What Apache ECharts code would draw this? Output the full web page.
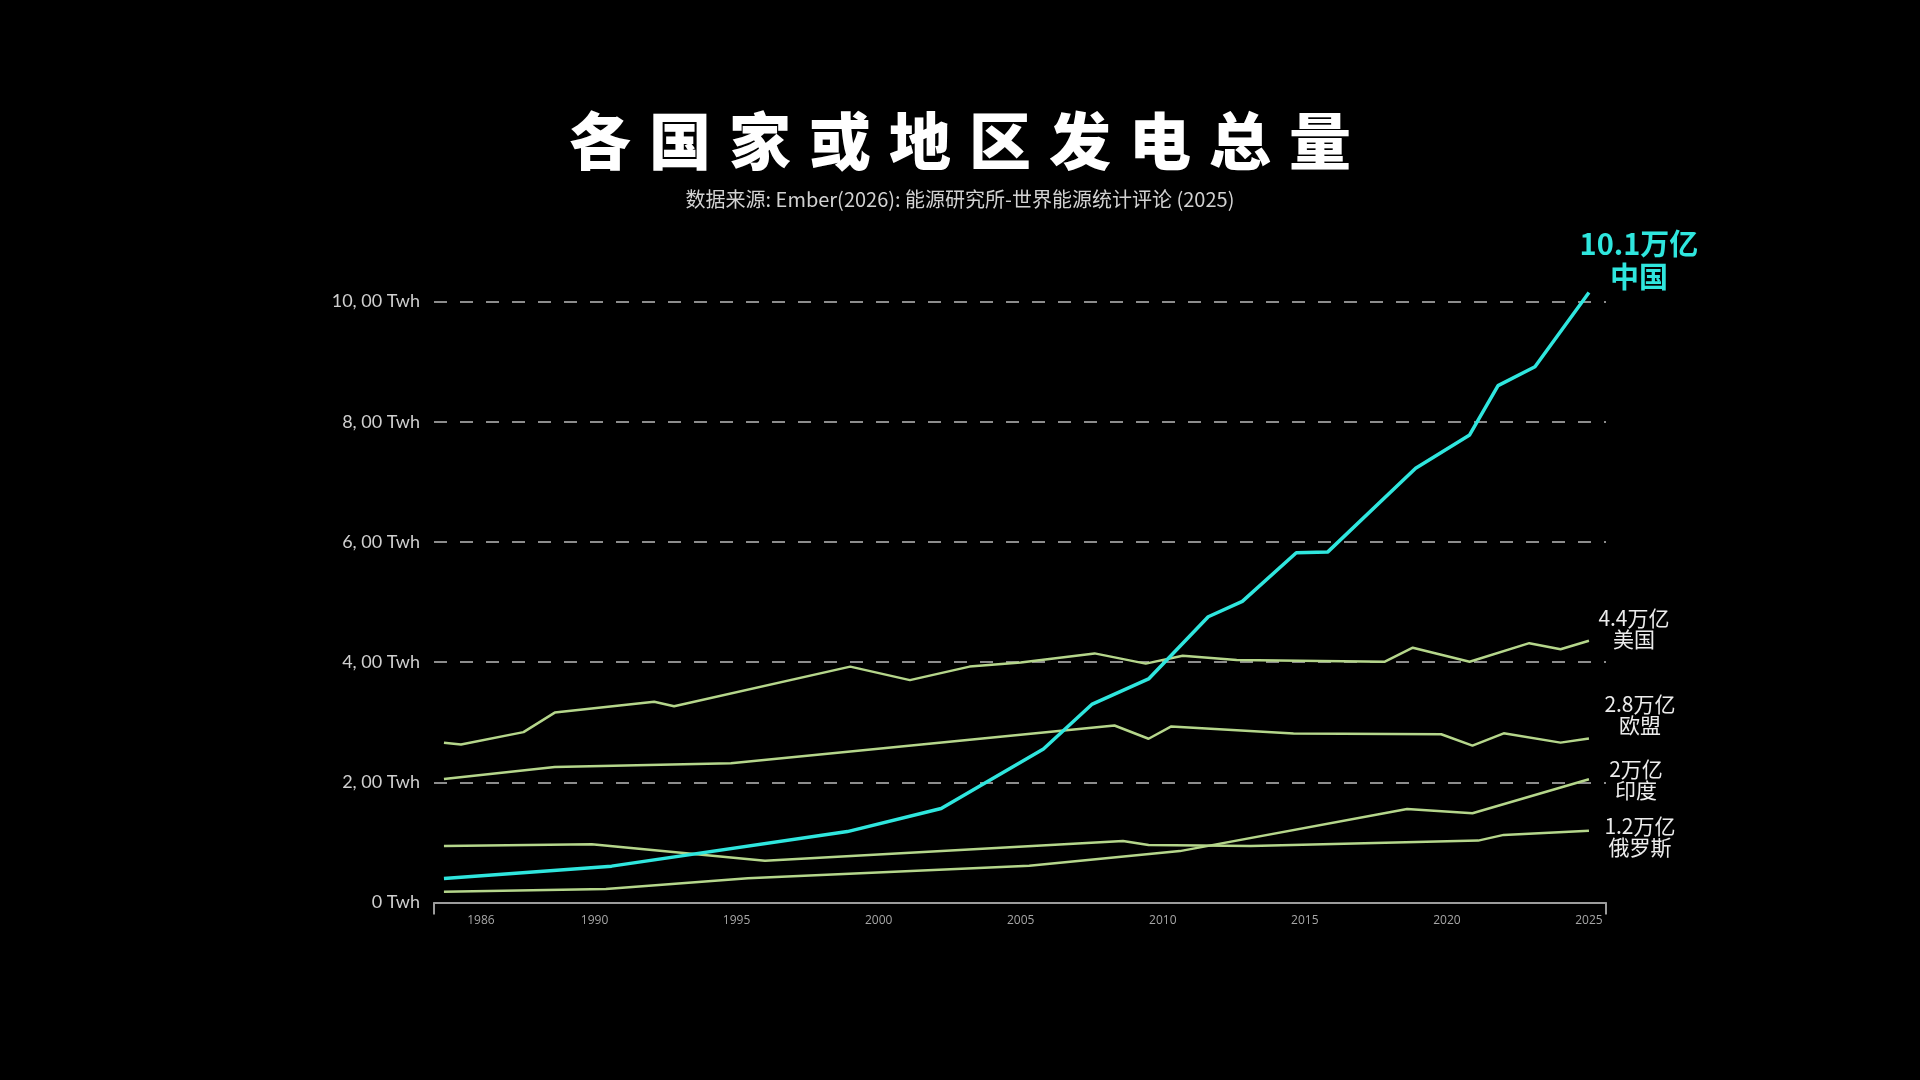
<!DOCTYPE html>
<html lang="zh">
<head>
<meta charset="utf-8">
<title>各国家或地区发电总量</title>
<script src="https://cdn.jsdelivr.net/npm/echarts@6/dist/echarts.min.js"></script>
<style>
    html, body { margin: 0; padding: 0; background: #000; }
    #main { width: 1920px; height: 1080px; }
    #head {
        position: absolute; left: 0; top: 105px; width: 1920px;
        text-align: center; color: #fff;
        font-family: "Noto Sans CJK SC", sans-serif; font-weight: 900;
        font-size: 62px; line-height: 66px;
        letter-spacing: 18px; text-indent: 18px;
    }
</style>
</head>
<body>
<div id="main"></div>
<div id="head">各国家或地区发电总量</div>
<script type="text/javascript">
    // 读图得到的折线拐点 (年份, TWh)
    var chinaYears = [1984.7, 1990.6, 1998.9, 2002.2, 2005.8, 2007.5, 2009.5, 2011.6, 2012.8, 2014.7, 2015.8, 2018.9, 2020.8, 2021.8, 2023.1, 2025.0];
    var chinaValues = [400, 605, 1180, 1565, 2555, 3295, 3720, 4755, 5010, 5820, 5830, 7225, 7780, 8600, 8915, 10150];

    var usYears = [1984.7, 1985.3, 1987.5, 1988.6, 1992.1, 1992.8, 1999.0, 2001.1, 2003.2, 2005.0, 2007.6, 2009.4, 2010.7, 2012.6, 2017.8, 2018.8, 2020.8, 2022.9, 2024.0, 2025.0];
    var usValues = [2660, 2630, 2835, 3160, 3340, 3265, 3925, 3700, 3925, 3995, 4145, 3975, 4105, 4035, 4005, 4240, 4005, 4315, 4215, 4355];

    var euYears = [1984.7, 1988.6, 1994.8, 2008.3, 2009.5, 2010.3, 2014.6, 2019.8, 2020.9, 2022.0, 2024.0, 2025.0];
    var euValues = [2055, 2255, 2315, 2945, 2725, 2930, 2810, 2800, 2610, 2815, 2660, 2730];

    var indiaYears = [1984.7, 1990.4, 1995.4, 2005.3, 2010.6, 2018.6, 2020.9, 2025.0];
    var indiaValues = [180, 225, 405, 610, 855, 1555, 1485, 2050];

    var russiaYears = [1984.7, 1989.9, 1996.0, 2008.6, 2009.5, 2013.1, 2021.1, 2022.0, 2025.0];
    var russiaValues = [940, 970, 695, 1025, 955, 940, 1030, 1125, 1195];

    var seriesNames = ['中国', '美国', '欧盟', '印度', '俄罗斯'];
    var endTexts = ['10.1万亿', '4.4万亿', '2.8万亿', '2万亿', '1.2万亿'];
    var yearTicks = [1986, 1990, 1995, 2000, 2005, 2010, 2015, 2020, 2025];

    var X_MIN = 1984.35, X_MAX = 2025.6;

    function pairs(xs, ys) {
        var out = [];
        for (var i = 0; i < xs.length; i++) {
            out.push([xs[i], ys[i]]);
        }
        return out;
    }

    function makeLine(idx, xs, ys, color, width, offset, label) {
        return {
            name: seriesNames[idx],
            type: 'line',
            data: pairs(xs, ys),
            symbol: 'none',
            clip: false,
            lineStyle: { color: color, width: width },
            endLabel: {
                show: true,
                distance: 0,
                align: 'center',
                verticalAlign: 'middle',
                offset: offset,
                formatter: function () {
                    return endTexts[idx] + '\n' + seriesNames[idx];
                },
                color: label.color,
                fontSize: label.size,
                fontWeight: label.weight,
                lineHeight: label.lineHeight,
                fontFamily: 'Noto Sans CJK SC'
            }
        };
    }

    var myChart = echarts.init(document.getElementById('main'), null, { renderer: 'canvas' });

    var whiteLabel = { color: '#ececec', size: 21, weight: 'normal', lineHeight: 21 };
    var green = '#b5d68b';

    var option = {
        backgroundColor: '#000',
        animation: false,
        title: {
            text: '数据来源: Ember(2026): 能源研究所-世界能源统计评论 (2025)',
            left: 'center',
            top: 184,
            textStyle: {
                color: '#d2d2d2',
                fontSize: 20,
                fontWeight: 'normal',
                fontFamily: 'Noto Sans CJK SC'
            }
        },
        grid: {
            left: 434,
            right: 314,
            top: 301.5,
            bottom: 177.5
        },
        xAxis: {
            type: 'value',
            min: X_MIN,
            max: X_MAX,
            axisLine: { show: true, lineStyle: { color: '#9c9c9c', width: 2 } },
            axisTick: {
                show: true,
                customValues: [X_MIN, X_MAX],
                length: 12,
                lineStyle: { color: '#9c9c9c', width: 2 }
            },
            axisLabel: {
                customValues: yearTicks,
                color: '#a6a6a6',
                fontSize: 12,
                margin: 12,
                fontFamily: 'Open Sans',
                formatter: function (v) {
                    return String(v);
                }
            },
            splitLine: { show: false }
        },
        yAxis: {
            type: 'value',
            min: 0,
            max: 10000,
            interval: 2000,
            axisLine: { show: false },
            axisTick: { show: false },
            axisLabel: {
                color: '#cfcfcf',
                fontSize: 18,
                margin: 14,
                fontFamily: 'Lato',
                formatter: function (v) {
                    return v === 0 ? '0 Twh' : (v / 1000) + ', 00 Twh';
                }
            },
            splitLine: {
                show: true,
                lineStyle: { color: '#8c8c8c', width: 2, type: [13, 13] }
            }
        },
        series: [
            makeLine(1, usYears, usValues, green, 2.5, [45, -12], whiteLabel),
            makeLine(2, euYears, euValues, green, 2.5, [51, -24], whiteLabel),
            makeLine(3, indiaYears, indiaValues, green, 2.5, [47, 0], whiteLabel),
            makeLine(4, russiaYears, russiaValues, green, 2.5, [51, 6], whiteLabel),
            makeLine(0, chinaYears, chinaValues, '#2fe6de', 3.5, [50, -32],
                { color: '#2fe6de', size: 29, weight: 'bold', lineHeight: 33 })
        ]
    };

    myChart.setOption(option);
</script>
</body>
</html>
